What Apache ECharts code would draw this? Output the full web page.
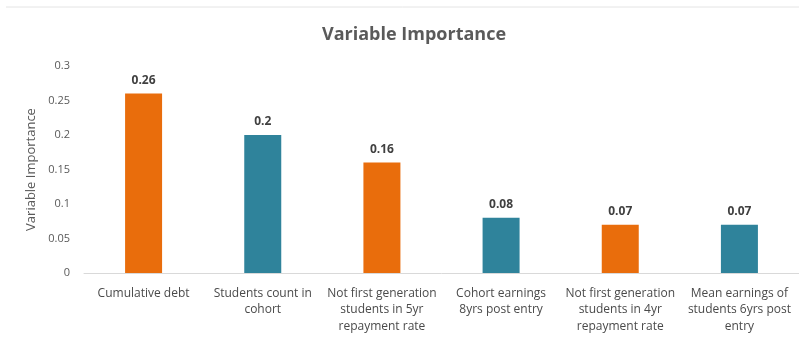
<!DOCTYPE html>
<html>
<head>
<meta charset="utf-8">
<title>Variable Importance</title>
<script src="https://cdn.jsdelivr.net/npm/echarts@6/dist/echarts.min.js"></script>
<style>
  html, body { margin: 0; padding: 0; background: #ffffff; }
  #chart { width: 799px; height: 339px; }
</style>
</head>
<body>
<div id="chart"></div>
<script>
// Feature names (line breaks as they wrap under each bar)
const categories = [
  'Cumulative debt',
  'Students count in\ncohort',
  'Not first generation\nstudents in 5yr\nrepayment rate',
  'Cohort earnings\n8yrs post entry',
  'Not first generation\nstudents in 4yr\nrepayment rate',
  'Mean earnings of\nstudents 6yrs post\nentry'
];
// Importance score of each feature
const importance = [0.26, 0.2, 0.16, 0.08, 0.07, 0.07];
// Bars alternate between two fills
const barColors = ['#E96D0C', '#2F839B'];
// Y axis range and step
const yMin = 0;
const yMax = 0.3;
const yStep = 0.05;

const chart = echarts.init(document.getElementById('chart'), null, { renderer: 'canvas' });

chart.setOption({
  backgroundColor: '#ffffff',
  animation: false,
  title: {
    text: 'Variable Importance',
    left: 317,
    top: 21,
    textStyle: {
      fontFamily: 'Open Sans',
      fontSize: 18,
      fontWeight: 'bold',
      color: '#5a5a5a'
    }
  },
  graphic: [{
    type: 'line',
    shape: { x1: 6, y1: 7, x2: 799, y2: 7 },
    style: { stroke: '#e4e4e4', lineWidth: 1 }
  }],
  grid: {
    left: 84,
    right: -1,
    top: 66,
    bottom: 66,
    containLabel: false
  },
  xAxis: {
    type: 'category',
    data: categories,
    axisTick: { show: false },
    axisLine: { show: true, lineStyle: { color: '#d9d9d9', width: 1 } },
    axisLabel: {
      interval: 0,
      margin: 12,
      fontFamily: 'Open Sans',
      fontSize: 12,
      lineHeight: 16.5,
      color: '#4a4a4a'
    }
  },
  yAxis: {
    type: 'value',
    min: yMin,
    max: yMax,
    interval: yStep,
    name: 'Variable Importance',
    nameLocation: 'middle',
    nameGap: 45,
    nameRotate: 90,
    nameTextStyle: {
      fontFamily: 'Open Sans',
      fontSize: 13,
      color: '#595959'
    },
    axisLine: { show: false },
    axisTick: { show: false },
    splitLine: { show: false },
    axisLabel: {
      margin: 14,
      fontFamily: 'Open Sans',
      fontSize: 11,
      color: '#595959'
    }
  },
  series: [{
    type: 'bar',
    data: importance.map((v, i) => ({
      value: v,
      itemStyle: { color: barColors[i % 2] }
    })),
    barWidth: 37,
    label: {
      show: true,
      position: 'top',
      distance: 7,
      fontFamily: 'Open Sans',
      fontSize: 12,
      fontWeight: 'bold',
      color: '#404040'
    }
  }]
});
</script>
</body>
</html>
